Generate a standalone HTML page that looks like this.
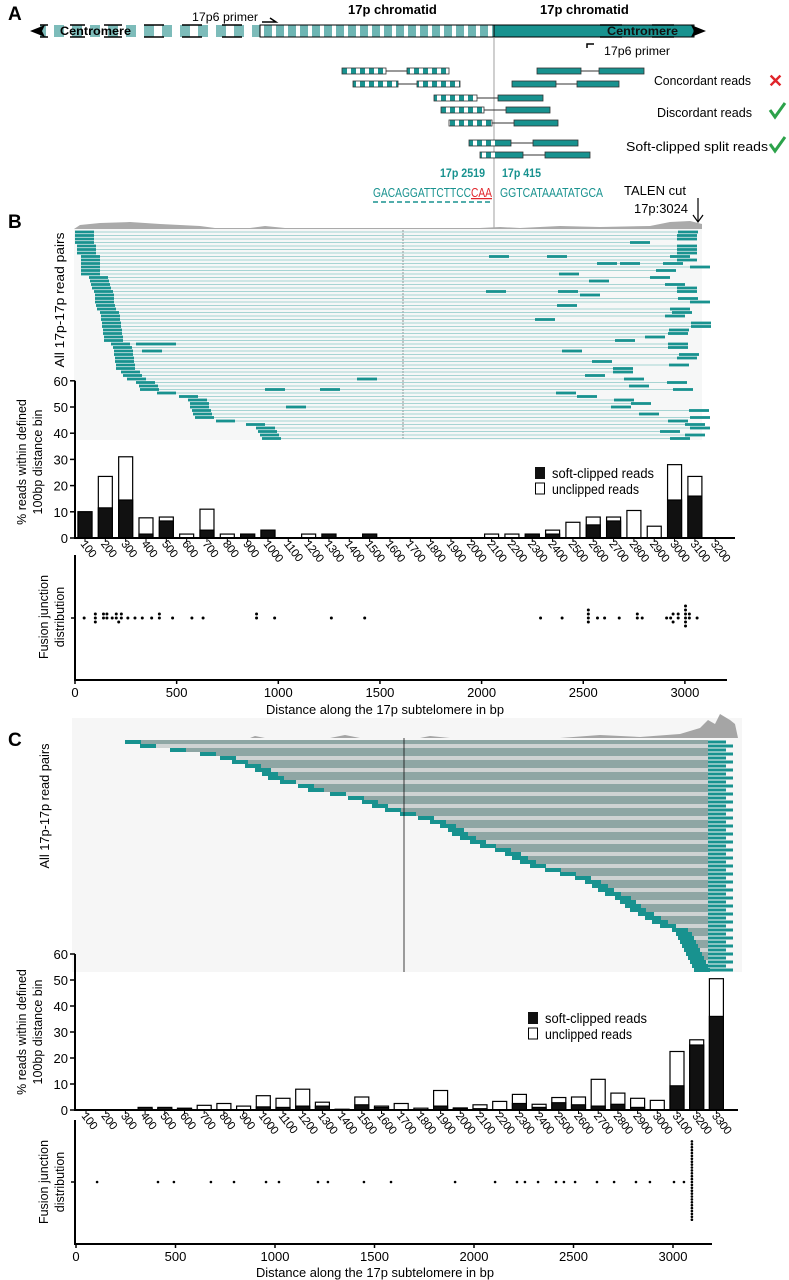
<!DOCTYPE html>
<html><head><meta charset="utf-8"><style>
html,body{margin:0;padding:0;background:#fff;}
svg{display:block;font-family:"Liberation Sans",sans-serif;}
.b{font-family:"Liberation Sans",sans-serif;font-weight:bold;}
</style></head><body>
<svg id="fig" width="789" height="1280" viewBox="0 0 789 1280" xmlns="http://www.w3.org/2000/svg">
<defs>
<pattern id="stripe" width="12" height="16" patternUnits="userSpaceOnUse"><rect width="12" height="16" fill="#fff"/><rect width="8" height="16" fill="#6db5b3"/></pattern>
<pattern id="stripe2" width="18" height="16" patternUnits="userSpaceOnUse"><rect width="18" height="16" fill="#fff"/><rect width="10" height="16" fill="#7dbcba"/></pattern>
<pattern id="chk" width="9" height="6" patternUnits="userSpaceOnUse"><rect width="9" height="6" fill="#fff"/><rect width="5" height="6" fill="#18928f"/></pattern>
</defs>
<!-- Panel A -->
<g>
<text x="8" y="20" class="b" font-size="19">A</text>
<text x="348" y="14" class="b" font-size="13">17p chromatid</text>
<text x="540" y="14" class="b" font-size="13">17p chromatid</text>
<text x="192" y="21" font-size="12" textLength="66">17p6 primer</text>
<path d="M262 22 L276 22 L270 18" stroke="#000" stroke-width="1.5" fill="none"/>
<rect x="40" y="25" width="220" height="12" fill="url(#stripe2)"/>
<g stroke="#000" stroke-width="1.5">
<path d="M40 25h8M40 37h8M70 25h15M70 37h15M104 25h18M104 37h18M144 25h20M144 37h20M182 25h20M182 37h20M222 25h20M222 37h20"/>
</g>
<rect x="260" y="25" width="234" height="12" fill="url(#stripe)" stroke="#000" stroke-width="1"/>
<rect x="494" y="25" width="200" height="12" fill="#18928f" stroke="#000" stroke-width="1"/>
<g stroke="#000" stroke-width="1.5"><path d="M600 25h22M600 37h22M652 25h22M652 37h22"/></g>
<path d="M30 31 L45 25 L42 31 L45 37 Z" fill="#000"/>
<path d="M706 31 L691 25 L694 31 L691 37 Z" fill="#000"/>
<text x="60" y="35" class="b" font-size="11.5" textLength="71">Centromere</text>
<text x="607" y="35" class="b" font-size="11.5" textLength="71" fill="#111">Centromere</text>
<path d="M594 44 L587 44 L587 48" stroke="#000" stroke-width="1.5" fill="none"/>
<text x="604" y="55" font-size="12" textLength="66">17p6 primer</text>
<line x1="494" y1="37" x2="494" y2="330" stroke="#888" stroke-width="0.8"/>
<g id="readsA"></g>
<text x="654" y="85" font-size="13" textLength="97">Concordant reads</text>
<text x="768" y="87" font-size="18" fill="#e0242a" class="b">✕</text>
<text x="657" y="117" font-size="13" textLength="95">Discordant reads</text>
<path d="M770 110 L775 117 L785 103" stroke="#2ca24a" stroke-width="3" fill="none"/>
<text x="626" y="151" font-size="13" textLength="142">Soft-clipped split reads</text>
<path d="M770 144 L775 151 L785 137" stroke="#2ca24a" stroke-width="3" fill="none"/>
<text x="440" y="177" class="b" font-size="12" textLength="45" fill="#18928f">17p 2519</text>
<text x="502" y="177" class="b" font-size="12" textLength="39" fill="#18928f">17p 415</text>
<text x="373" y="197" font-size="12.5" textLength="119" fill="#18928f">GACAGGATTCTTCC<tspan fill="#e0242a" text-decoration="underline">CAA</tspan></text>
<text x="500" y="197" font-size="12.5" textLength="103" fill="#18928f">GGTCATAAATATGCA</text>
<line x1="373" y1="202" x2="492" y2="202" stroke="#18928f" stroke-width="1.5" stroke-dasharray="5,3"/>
<text x="624" y="195" font-size="12.5" textLength="62">TALEN cut</text>
<text x="634" y="213" font-size="12.5" textLength="54">17p:3024</text>
<path d="M698 198 L698 222 M693 215 L698 222 L703 215" stroke="#000" stroke-width="1.2" fill="none"/>
</g>
<!-- Panel B -->
<text x="8" y="228" class="b" font-size="19">B</text>
<rect x="74" y="229" width="628" height="211" fill="#f6f7f7"/>
<path d="M74 229 L80 225 L100 223 L130 222 L160 224 L200 226 L215 228 L250 228 L265 226 L285 228 L480 228 L500 227 L520 228 L560 226 L600 227 L650 226 L670 222 L690 221 L702 224 L702 229 Z" fill="#aaa"/>
<line x1="403" y1="230" x2="403" y2="440" stroke="#777" stroke-width="0.8" stroke-dasharray="2,1"/>
<g id="readsB"></g>
<text transform="translate(64,300) rotate(-90)" text-anchor="middle" font-size="12.5" textLength="135">All 17p-17p read pairs</text>
<g id="barsB"></g>
<text transform="translate(26,462) rotate(-90)" text-anchor="middle" font-size="12.5"><tspan x="0" y="0">% reads within defined</tspan><tspan x="0" y="16">100bp distance bin</tspan></text>
<g id="dotsB"></g>
<text transform="translate(48,617) rotate(-90)" text-anchor="middle" font-size="12.5"><tspan x="0" y="0">Fusion junction</tspan><tspan x="0" y="16">distribution</tspan></text>
<text x="385" y="714" font-size="12.5" textLength="238" text-anchor="middle">Distance along the 17p subtelomere in bp</text>
<!-- Panel C -->
<text x="8" y="746" class="b" font-size="19">C</text>
<rect x="72" y="718" width="670" height="254" fill="#f6f6f6"/>
<path d="M135 738 L250 738 L255 736 L265 738 L330 738 L345 735 L360 738 L420 738 L430 736 L450 738 L560 738 L600 735 L640 737 L680 734 L700 728 L708 720 L715 724 L720 714 L730 720 L735 724 L738 738 Z" fill="#a5a5a5"/>
<g id="readsC"></g>
<line x1="404" y1="738" x2="404" y2="972" stroke="#111" stroke-width="0.8"/>
<text transform="translate(49,806) rotate(-90)" text-anchor="middle" font-size="12.5" textLength="125">All 17p-17p read pairs</text>
<g id="barsC"></g>
<text transform="translate(26,1032) rotate(-90)" text-anchor="middle" font-size="12.5"><tspan x="0" y="0">% reads within defined</tspan><tspan x="0" y="16">100bp distance bin</tspan></text>
<g id="dotsC"></g>
<text transform="translate(48,1182) rotate(-90)" text-anchor="middle" font-size="12.5"><tspan x="0" y="0">Fusion junction</tspan><tspan x="0" y="16">distribution</tspan></text>
<text x="375" y="1277" font-size="12.5" textLength="238" text-anchor="middle">Distance along the 17p subtelomere in bp</text>
</svg>
<script>
// ---- Panel B bar data ----
const binsB = [100,200,300,400,500,600,700,800,900,1000,1100,1200,1300,1400,1500,1600,1700,1800,1900,2000,2100,2200,2300,2400,2500,2600,2700,2800,2900,3000,3100,3200];
const totalB = [10,23.5,31,7.7,8,1.5,11,1.5,1.5,3,0,1.5,1.5,0,1.5,0,0,0,0,0,1.5,1.5,1.5,3,6,8,8,10.5,4.5,28,23.5,0];
const softB = [10,11.5,14.5,1.5,6.5,0,3,0,1.5,3,0,0,1.5,0,1.5,0,0,0,0,0,0,0,1.5,1.5,0,5,6.5,0,0,14.5,16,0];
const yTicksBar = [0,10,20,30,40,50,60];
// ---- Panel C bar data ----
const binsC = [100,200,300,400,500,600,700,800,900,1000,1100,1200,1300,1400,1500,1600,1700,1800,1900,2000,2100,2200,2300,2400,2500,2600,2700,2800,2900,3000,3100,3200,3300];
const totalC = [0,0,0,1,1,0.7,1.8,2.5,1.5,5.5,4.5,8,3,0.3,5,1.5,2.5,0.7,7.5,0.8,2,3.3,6,2.2,4.8,5,11.8,6.5,4.5,3.7,22.5,27,50.5];
const softC = [0,0,0,0.5,0.5,0.5,0,0,0,1.2,1,1.5,1.5,0,2,1,0,0,1.5,0.5,0.5,0,2.5,1,2.8,2,1.5,2.2,1,0,9.3,25,36];
// ---- dot plot data (bp) ----
const junctionsB = [45,100,100,100,140,140,157,157,183,203,203,215,228,228,260,295,331,377,415,415,480,575,630,893,893,982,1261,1425,2290,2396,2525,2525,2525,2525,2570,2605,2677,2766,2766,2790,2910,2930,2942,2942,2967,2967,3003,3003,3003,3003,3003,3003,3022,3022,3060];
const junctionsC = [106,412,492,678,794,955,1020,1216,1266,1447,1583,1905,2106,2216,2256,2322,2412,2452,2508,2618,2704,2814,2884,3005,3055,3095,3095,3095,3095,3095,3095,3095,3095,3095,3095,3095,3095,3095,3095,3095,3095,3095,3095,3095,3095,3095,3095,3095,3095,3095,3095,3095,3095];
const xTicksDot = [0,500,1000,1500,2000,2500,3000];
// ---- read pile data (px) ----
const leftB = [75,75,75,75,77,77,77,81,81,81,81,81,81,89,90,91,92,94,95,95,95,96,97,100,101,101,102,102,103,103,104,104,111,113,114,114,115,115,116,116,121,123,127,136,139,140,157,179,188,190,190,192,193,195,216,246,256,258,260,262];
const rightB = [678,677,677,630,677,677,677,670,677,663,690,656,559,650,589,665,677,677,580,678,690,557,670,672,665,535,691,691,669,668,645,615,668,668,562,679,677,592,669,613,613,585,624,667,629,673,556,577,614,631,611,689,639,690,668,685,690,660,685,670];
const extraB = [[7,489],[7,547],[9,597],[9,620],[17,486],[17,558],[32,136],[32,156],[34,142],[42,357],[45,265],[45,320],[50,286]];
const leftC = [125,140,170,200,220,232,245,255,262,268,280,298,308,330,348,362,372,385,400,418,430,440,448,452,460,470,480,495,505,512,520,530,545,560,575,585,592,598,605,615,620,625,630,638,645,652,660,672,676,678,680,682,684,686,688,690,692,694];

const NS='http://www.w3.org/2000/svg';
function mk(parent, tag, attrs, txt){const e=document.createElementNS(NS,tag);for(const k in attrs)e.setAttribute(k,attrs[k]);if(txt!==undefined)e.textContent=txt;parent.appendChild(e);return e;}

// Panel A schematic reads
(function(){
  const g=document.getElementById('readsA');
  const rows=[[71,[[342,386,'c'],[407,449,'c']]],[71,[[537,581,'t'],[599,644,'t']]],[84,[[353,398,'c'],[417,460,'c']]],[84,[[512,556,'t'],[577,619,'t']]],[98,[[434,477,'c'],[498,543,'t']]],[110,[[441,484,'c'],[506,550,'t']]],[123,[[449,492,'c'],[514,558,'t']]],[143,[[469,511,'m'],[533,578,'t']]],[155,[[480,523,'m'],[545,590,'t']]]];
  rows.forEach(r=>{const y=r[0];const a=r[1][0],b=r[1][1];
    const l=mk(g,'line',{x1:a[1],y1:y,x2:b[0],y2:y,stroke:'#333','stroke-width':1});
    
    
    [a,b].forEach(s=>{let fill=s[2]=='c'?'url(#chk)':'#18928f';
      const rc=mk(g,'rect',{x:s[0],y:y-3,width:s[1]-s[0],height:6,fill:fill,stroke:'#333','stroke-width':0.8});
      
      
      if(s[2]=='m'){const h=mk(g,'rect',{x:s[0]+1,y:y-2.5,width:(494-s[0]),height:5,fill:'url(#chk)'});
        
        }
    });
  });
})();

// Panel B read pairs
(function(){
  const g=document.getElementById('readsB');
  leftB.forEach((lx,i)=>{const y=232+i*3.5;
    const ln=mk(g,'line',{x1:lx+18,y1:y,x2:rightB[i],y2:y,stroke:'#8cc9c7','stroke-width':0.8});
    
    
    const a=mk(g,'rect',{x:lx,y:y-1.4,width:19,height:2.8,fill:'#18928f'});
    
    
    const b=mk(g,'rect',{x:rightB[i],y:y-1.4,width:20,height:2.8,fill:'#18928f'});
    
    
  });
  extraB.forEach(e=>{const r=mk(g,'rect',{x:e[1],y:232+e[0]*3.5-1.4,width:20,height:2.8,fill:'#18928f'});
    
    });
})();

// Panel C read pairs
(function(){
  const g=document.getElementById('readsC');
  leftC.forEach((lx,i)=>{const y=740+i*4;
    const bar=mk(g,'rect',{x:lx,y:y,width:708-lx,height:4,fill:(i%3==1)?'#cfd3d3':'#8ea6a4'});
    
    
    const t=mk(g,'rect',{x:lx,y:y,width:16,height:4,fill:'#18928f'});
    
    
    const r=mk(g,'rect',{x:708,y:y+0.5,width:18+(i*7)%14,height:3,fill:'#18928f'});
    
    
  });
})();

// Bar charts
function barChart(gid,bins,total,soft,x0,dx,y0,ppu,xEnd,legendY){
  const g=document.getElementById(gid);
  const yS=v=>y0-v*ppu, xS=i=>x0+i*dx;
  const ax=mk(g,'line',{x1:75,y1:yS(60),x2:75,y2:y0+1,stroke:'#000','stroke-width':2});
  
  
  yTicksBar.forEach(t=>{const tl=mk(g,'line',{x1:70,y1:yS(t),x2:75,y2:yS(t),stroke:'#000','stroke-width':1.5});
    
    
    const tx=mk(g,'text',{x:68,y:yS(t)+5,'text-anchor':'end','font-size':13},t);
    
    });
  bins.forEach((b,i)=>{const cx=xS(i);
    if(total[i]>0){const w=mk(g,'rect',{x:cx-7,y:yS(total[i]),width:14,height:total[i]*ppu,fill:'#fff',stroke:'#000','stroke-width':1.2});
      
      }
    if(soft[i]>0){const k=mk(g,'rect',{x:cx-7,y:yS(soft[i]),width:14,height:soft[i]*ppu,fill:'#111',stroke:'#000','stroke-width':1.2});
      
      }
    const tk=mk(g,'line',{x1:cx,y1:y0,x2:cx,y2:y0+4,stroke:'#000','stroke-width':1});
    
    
    const lb=mk(g,'text',{x:0,y:0,'font-size':11.5,'letter-spacing':-0.4,transform:'translate('+(cx-5)+','+(y0+6)+') rotate(52)'},b);
    
    
  });
  const xa=mk(g,'line',{x1:74,y1:y0,x2:xEnd,y2:y0,stroke:'#000','stroke-width':2});
  
  
  const lx=gid=='barsB'?535:528;
  const l1=mk(g,'rect',{x:lx,y:legendY,width:10,height:12,fill:'#111'});
  
  
  const t1=mk(g,'text',{x:lx+17,y:legendY+11,'font-size':13.5,textLength:102},'soft-clipped reads');
  
  
  const l2=mk(g,'rect',{x:lx+0.5,y:legendY+16,width:9,height:11,fill:'#fff',stroke:'#000'});
  
  
  const t2=mk(g,'text',{x:lx+17,y:legendY+27,'font-size':13.5,textLength:87},'unclipped reads');
  
  
}
barChart('barsB',binsB,totalB,softB,85,20.33,538,2.62,735,467);
barChart('barsC',binsC,totalC,softC,86,19.7,1110,2.6,738,1012);

// Dot plots
function dotPlot(gid,vals,x0,scale,yTop,yAxis,yc,xEnd,spacing,r){
  const g=document.getElementById(gid);
  const xS=v=>x0+v*scale;
  const ax=mk(g,'line',{x1:75,y1:yTop,x2:75,y2:yAxis,stroke:'#000','stroke-width':2});
  
  
  const yt=mk(g,'line',{x1:71,y1:yc,x2:75,y2:yc,stroke:'#000','stroke-width':1.5});
  
  
  const xa=mk(g,'line',{x1:74,y1:yAxis,x2:xEnd,y2:yAxis,stroke:'#000','stroke-width':2});
  
  
  xTicksDot.forEach(t=>{const tk=mk(g,'line',{x1:xS(t),y1:yAxis,x2:xS(t),y2:yAxis+4,stroke:'#000','stroke-width':1.5});
    
    
    const tx=mk(g,'text',{x:xS(t),y:yAxis+17,'text-anchor':'middle','font-size':13},t);
    
    });
  const sorted=vals.slice().sort((a,b)=>a-b);
  let groups=[];sorted.forEach(v=>{const last=groups[groups.length-1];
    if(last&&Math.abs(xS(v)-xS(last[0]))<2.5)last.push(v);else groups.push([v]);});
  groups.forEach(gr=>{gr.forEach((v,k)=>{const off=(k%2==0?1:-1)*Math.ceil(k/2)*spacing;
    const c=mk(g,'circle',{cx:xS(v),cy:yc+off,r:r,fill:'#000'});
    
    });});
}
dotPlot('dotsB',junctionsB,75,0.2033,555,680,618,727,4,1.5);
dotPlot('dotsC',junctionsC,76,0.199,1120,1244,1182,712,2.9,1.3);

document.querySelectorAll('text[textLength]').forEach(t=>t.setAttribute('lengthAdjust','spacingAndGlyphs'));
</script>
</body></html>
